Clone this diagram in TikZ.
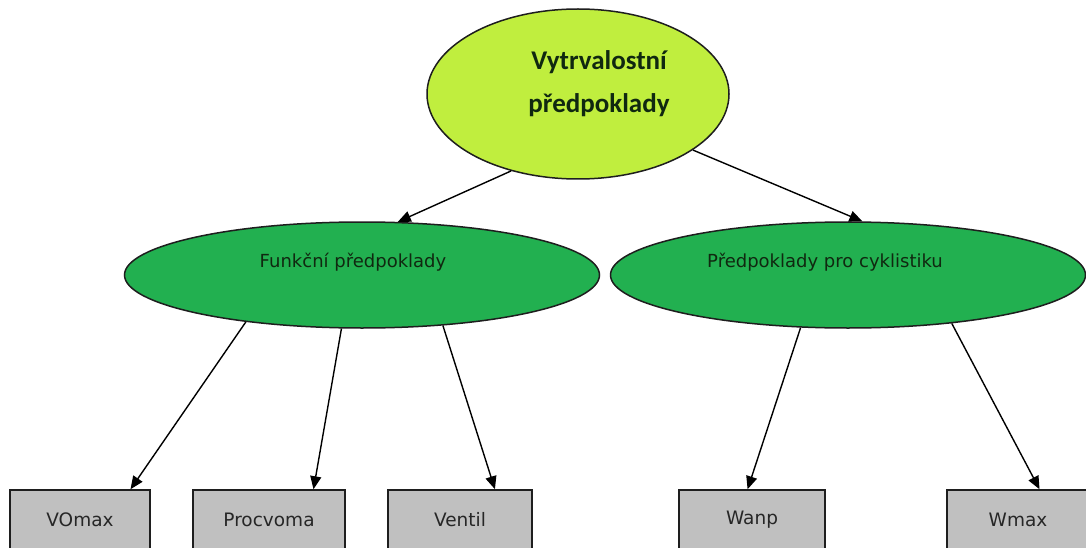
\documentclass[tikz,border=0pt]{standalone}
\usepackage{fontspec}
\setmainfont{DejaVu Sans}
\newfontfamily\titlefont{Carlito}
\usetikzlibrary{arrows.meta,calc,shapes.geometric}

\definecolor{limefill}{RGB}{192,238,62}
\definecolor{greenfill}{RGB}{34,176,80}
\definecolor{boxfill}{RGB}{192,192,192}
\definecolor{outline}{RGB}{30,30,30}
\definecolor{darktext}{RGB}{16,40,16}

\tikzset{
  rootoval/.style={ellipse, draw=outline, line width=1.5pt, fill=limefill,
    minimum width=302pt, minimum height=170pt, inner sep=0pt},
  groupoval/.style={ellipse, draw=outline, line width=1.5pt, fill=greenfill,
    minimum width=475pt, minimum height=106pt, inner sep=0pt},
  leafbox/.style={rectangle, draw=outline, line width=1.5pt, fill=boxfill,
    minimum height=60pt, inner sep=0pt,
    font=\fontsize{18.5}{22}\selectfont, text=black!85},
  grouplabel/.style={font=\fontsize{18}{22}\selectfont, text=darktext},
  link/.style={draw=black, line width=1.4pt,
    -{Triangle[length=13pt,width=11pt]}}
}

\begin{document}
\begin{tikzpicture}[x=1pt,y=-1pt]
  \clip (0,0) rectangle (1086,548);
  \fill[white] (0,0) rectangle (1086,548);

  % root
  \node[rootoval] (root) at (578,94) {};
  \node[font=\titlefont\bfseries\fontsize{27}{43}\selectfont, align=center,
        text=darktext] (rootText) at (599,84) {Vytrvalostní\\předpoklady};

  % groups
  \node[groupoval] (func) at (362,275) {};
  \node[grouplabel] (funcText) at (353,262) {Funkční předpoklady};
  \node[groupoval] (cycl) at (848,275) {};
  \node[grouplabel] (cyclText) at (825,262) {Předpoklady pro cyklistiku};

  % leaves
  \node[leafbox, minimum width=140pt] (vo)   at (80,520)   {VOmax};
  \node[leafbox, minimum width=152pt] (proc) at (269,520)  {Procvoma};
  \node[leafbox, minimum width=144pt] (vent) at (460,520)  {Ventil};
  \node[leafbox, minimum width=146pt] (wanp) at (752,520)  {Wanp};
  \node[leafbox, minimum width=142pt] (wmax) at (1018,520) {Wmax};

  % connectors
  \draw[link] (root.229) -- (func.56.6);
  \draw[link] (root.334) -- (cycl.75);
  \draw[link] (func.202) -- ($(vo.north west)!0.857!(vo.north east)$);
  \draw[link] (func.249) -- ($(proc.north west)!0.79!(proc.north east)$);
  \draw[link] (func.328) -- ($(vent.north west)!0.74!(vent.north east)$);
  \draw[link] (cycl.228) -- ($(wanp.north west)!0.47!(wanp.north east)$);
  \draw[link] (cycl.335) -- ($(wmax.north west)!0.65!(wmax.north east)$);
\end{tikzpicture}
\end{document}
